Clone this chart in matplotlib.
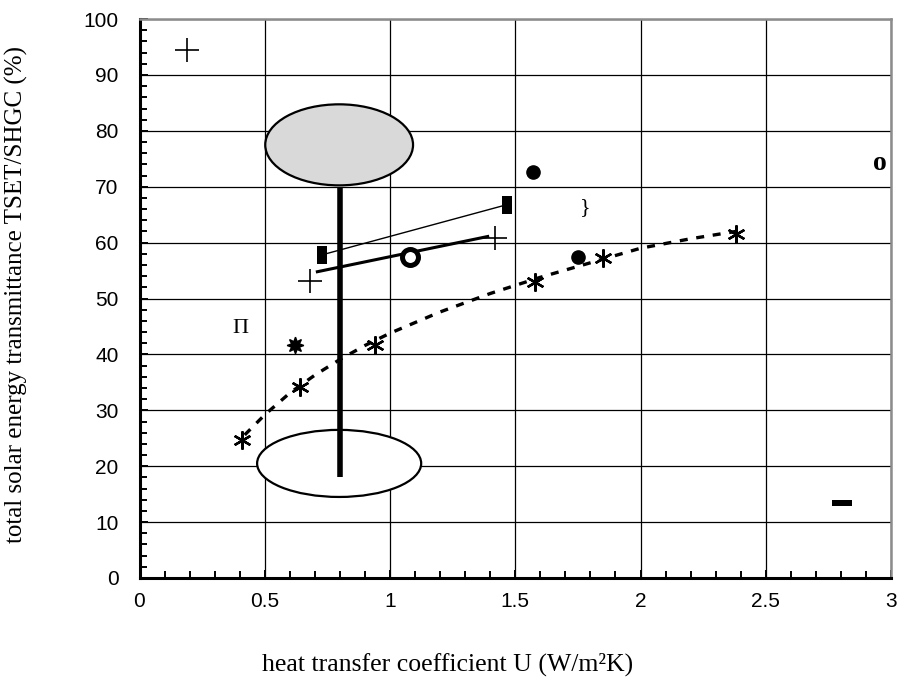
import matplotlib as mpl
mpl.use("Agg")
import matplotlib.pyplot as plt
from matplotlib.patches import Ellipse

# ---- data ----
# dashed trend curve through the asterisks
curve_u = [0.42, 0.5, 0.6, 0.7, 0.8, 0.9, 1.0, 1.2, 1.4, 1.6, 1.8, 2.0, 2.2, 2.38]
curve_g = [25.6, 29.2, 33.1, 36.3, 39.1, 41.6, 43.8, 47.6, 50.9, 53.8, 56.4, 59.0, 60.7, 62.0]
star_u = [0.41, 0.64, 0.94, 1.58, 1.85, 2.38]
star_g = [24.7, 34.2, 41.7, 53.0, 57.2, 61.5]

plus_u = [0.19, 0.68, 1.42]
plus_g = [94.5, 53.2, 60.9]

bar_u = [0.727, 1.467]
bar_g = [57.8, 66.8]

thick_u = [0.71, 1.39]
thick_g = [54.8, 61.1]

ring_u = [1.08]
ring_g = [57.5]

dot_u = [1.572, 1.749]
dot_g = [72.7, 57.4]

burst_u = [0.621]
burst_g = [41.7]

dash_u = [2.804]
dash_g = [13.4]

vert_u = [0.8, 0.8]
vert_g = [18.0, 69.8]

# (center u, center g, width, height)
ell_top = (0.797, 77.5, 0.59, 14.5)
ell_bot = (0.797, 20.5, 0.655, 12.0)

glyph_labels = ["\u03a0", "}", "o"]
glyph_u = [0.404, 1.778, 2.956]
glyph_g = [44.7, 66.3, 74.2]

x_ticks = [0, 0.5, 1, 1.5, 2, 2.5, 3]
x_tick_labels = ["0", "0.5", "1", "1.5", "2", "2.5", "3"]
y_ticks = [0, 10, 20, 30, 40, 50, 60, 70, 80, 90, 100]

SERIF = ["Liberation Serif", "DejaVu Serif"]
SANS = ["Liberation Sans", "DejaVu Sans"]

fig = plt.figure(figsize=(9.0, 6.82), dpi=100)
ax = fig.add_axes([0.155, 0.1525, 0.835, 0.8195])

ax.set_xlim(0, 3)
ax.set_ylim(0, 100)
ax.set_xticks(x_ticks)
ax.set_xticklabels(x_tick_labels)
ax.set_yticks(y_ticks)
ax.xaxis.set_minor_locator(mpl.ticker.MultipleLocator(0.1))
ax.yaxis.set_minor_locator(mpl.ticker.MultipleLocator(2))
ax.grid(True, which="major", color="black", linewidth=0.9, zorder=0)
ax.set_axisbelow(True)

ax.tick_params(which="both", direction="in", width=1.4, top=False, right=False)
ax.tick_params(which="major", length=6, labelsize=15)
ax.tick_params(which="minor", length=5)
ax.tick_params(axis="x", pad=10)
ax.tick_params(axis="y", pad=15)
for lab in ax.get_xticklabels() + ax.get_yticklabels():
    lab.set_family(SANS)

for side in ("left", "bottom"):
    ax.spines[side].set_linewidth(2.2)
    ax.spines[side].set_color("black")
for side in ("top", "right"):
    ax.spines[side].set_linewidth(1.8)
    ax.spines[side].set_color("0.55")

# ellipses
cu, cg, w, h = ell_top
ax.add_patch(Ellipse((cu, cg), w, h, facecolor="#d9d9d9", edgecolor="black", lw=1.6, zorder=3))
cu, cg, w, h = ell_bot
ax.add_patch(Ellipse((cu, cg), w, h, facecolor="white", edgecolor="black", lw=1.6, zorder=3))
ax.plot(vert_u, vert_g, color="black", lw=4, solid_capstyle="butt", zorder=4)

# dashed curve and asterisks
ax.plot(curve_u, curve_g, color="black", lw=2.4, linestyle=(0, (2.4, 2.6)), zorder=4)
ax.plot(star_u, star_g, linestyle="none", marker=(6, 2, 0), markersize=13,
        markeredgewidth=1.7, color="black", zorder=5)

# connecting lines
ax.plot(bar_u, bar_g, color="black", lw=1.0, zorder=4)
ax.plot(thick_u, thick_g, color="black", lw=2.2, zorder=4)

tall_rect = [(-0.28, -0.5), (0.28, -0.5), (0.28, 0.5), (-0.28, 0.5), (-0.28, -0.5)]
ax.plot(bar_u, bar_g, linestyle="none", marker=tall_rect, markersize=13,
        color="black", markeredgewidth=0, zorder=5)
flat_rect = [(-0.5, -0.13), (0.5, -0.13), (0.5, 0.13), (-0.5, 0.13), (-0.5, -0.13)]
ax.plot(dash_u, dash_g, linestyle="none", marker=flat_rect, markersize=15,
        color="black", markeredgewidth=0, zorder=5)

ax.plot(plus_u, plus_g, linestyle="none", marker="+", markersize=17,
        markeredgewidth=1.2, color="black", zorder=5)
ax.plot(ring_u, ring_g, linestyle="none", marker="o", markersize=11.5,
        markerfacecolor="white", markeredgecolor="black", markeredgewidth=3.6, zorder=5)
ax.plot(dot_u, dot_g, linestyle="none", marker="o", markersize=9.5,
        color="black", zorder=5)
ax.plot(burst_u, burst_g, linestyle="none", marker=(8, 1, 0), markersize=12,
        color="black", zorder=5)

ax.text(glyph_u[0], glyph_g[0], glyph_labels[0], family=SERIF, fontsize=16,
        ha="center", va="center", zorder=5)
ax.text(glyph_u[1], glyph_g[1], glyph_labels[1], family=SERIF, fontsize=16,
        ha="center", va="center", zorder=5)
ax.text(glyph_u[2], glyph_g[2], glyph_labels[2], family=SERIF, fontsize=20,
        fontweight="bold", ha="center", va="center", zorder=5)

ax.set_xlabel("heat transfer coefficient U (W/m\u00b2K)", family=SERIF, fontsize=18.5)
ax.xaxis.set_label_coords(0.41, -0.133)
ax.set_ylabel("total solar energy transmittance TSET/SHGC (%)", family=SERIF, fontsize=18)
ax.yaxis.set_label_coords(-0.148, 0.508)

fig.savefig("out.png", dpi=100)
